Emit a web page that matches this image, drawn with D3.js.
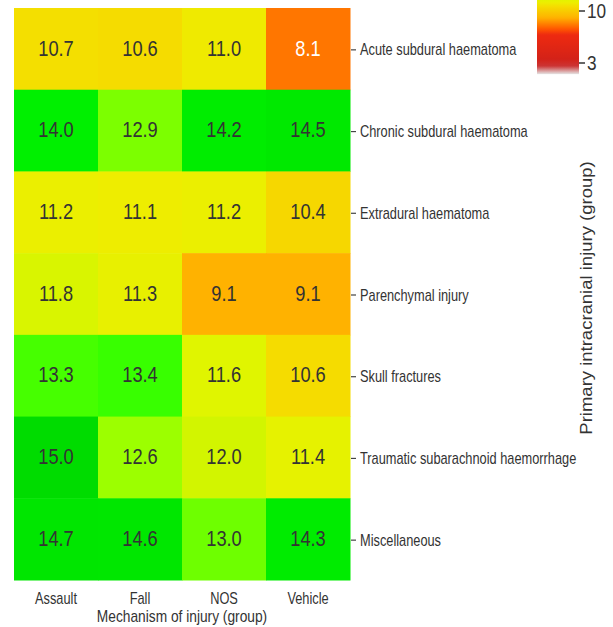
<!DOCTYPE html>
<html>
<head>
<meta charset="utf-8">
<script src="https://cdn.jsdelivr.net/npm/d3@7"></script>
<style>
  html, body { margin: 0; padding: 0; background: #fff; }
  svg { display: block; font-family: "Liberation Sans", Arial, sans-serif; }
</style>
</head>
<body>
<svg id="chart" width="613" height="627"></svg>
<script>
// Mechanism of injury groups (columns)
const mechanisms = ["Assault", "Fall", "NOS", "Vehicle"];
// Primary intracranial injury groups (rows)
const injuries = [
  "Acute subdural haematoma",
  "Chronic subdural haematoma",
  "Extradural haematoma",
  "Parenchymal injury",
  "Skull fractures",
  "Traumatic subarachnoid haemorrhage",
  "Miscellaneous"
];
// Values per injury row, in mechanism order
const assault = [10.7, 14.0, 11.2, 11.8, 13.3, 15.0, 14.7];
const fall    = [10.6, 12.9, 11.1, 11.3, 13.4, 12.6, 14.6];
const nos     = [11.0, 14.2, 11.2, 9.1, 11.6, 12.0, 13.0];
const vehicle = [8.1, 14.5, 10.4, 9.1, 10.6, 11.4, 14.3];
// Colour bar ticks
const legendTicks = [3, 10];

// Colour ramp: grey -> red -> orange -> yellow -> green
const colorStops = [1.5, 2.6, 3.5, 6.8, 7.6, 8.1, 9.1, 10.0, 10.6, 11.1, 11.6, 12.0, 12.3, 12.6, 12.9, 13.4, 14.0, 14.7, 15.0, 16.0];
const colorRange = ["#e4e4e4", "#cc3434", "#d32218", "#ee2a10", "#ff5800", "#ff7600", "#ffb200",
                    "#f8cc00", "#f5dc00", "#eeed00", "#e0f500", "#d2f500", "#bef900", "#9cff00", "#7cff00",
                    "#38ff00", "#00f000", "#00e600", "#00dc00", "#00d000"];

const series = [assault, fall, nos, vehicle];
const cells = [];
mechanisms.forEach((m, i) => {
  injuries.forEach((inj, j) => cells.push({ mech: m, inj: inj, value: series[i][j] }));
});

const svg = d3.select("#chart");
const color = d3.scaleLinear().domain(colorStops).range(colorRange).clamp(true);

const x = d3.scaleBand().domain(mechanisms).range([14, 350]);
const y = d3.scaleBand().domain(injuries).range([8, 580]);

// helper: horizontally narrowed text
function label(g, tx, ty, txt, size, sx, opts = {}) {
  return g.append("text")
    .attr("transform", `translate(${tx},${ty}) scale(${sx},1)`)
    .attr("font-size", size)
    .attr("text-anchor", opts.anchor || "middle")
    .attr("dy", opts.dy || "0.35em")
    .attr("fill", opts.fill || "#333")
    .text(txt);
}

// heat cells
svg.append("g").selectAll("rect").data(cells).join("rect")
  .attr("x", d => x(d.mech))
  .attr("y", d => y(d.inj))
  .attr("width", x.bandwidth() + 0.5)
  .attr("height", y.bandwidth() + 0.5)
  .attr("fill", d => color(d.value));

// cell values
const valG = svg.append("g");
cells.forEach(d => {
  label(valG, x(d.mech) + x.bandwidth() / 2, y(d.inj) + y.bandwidth() / 2 - 1,
        d.value.toFixed(1), 22, 0.83, { fill: d.value < 9 ? "#ffffff" : "#333333" });
});

// right-hand axis with injury labels
const yAxisG = svg.append("g");
injuries.forEach(inj => {
  const cy = y(inj) + y.bandwidth() / 2 + 1;
  yAxisG.append("line").attr("x1", 351).attr("x2", 356).attr("y1", cy).attr("y2", cy)
    .attr("stroke", "#444").attr("stroke-width", 1.2);
  label(yAxisG, 360, cy, inj, 16, 0.8, { anchor: "start" });
});

// bottom axis labels
const xAxisG = svg.append("g");
mechanisms.forEach(m => {
  label(xAxisG, x(m) + x.bandwidth() / 2, 598, m, 16, 0.8);
});

// axis titles
label(svg, 182, 616, "Mechanism of injury (group)", 16, 0.86);
svg.append("text")
  .attr("transform", "translate(592,298) rotate(-90) scale(1,0.85)")
  .attr("font-size", 18.5)
  .attr("text-anchor", "middle")
  .attr("fill", "#333")
  .text("Primary intracranial injury (group)");

// colour bar
const cb = d3.scaleLinear().domain([3, 10]).range([63, 11]);
const cbTop = 16, cbBottom = 1.5;
const defs = svg.append("defs");
const grad = defs.append("linearGradient").attr("id", "cbGrad")
  .attr("x1", 0).attr("x2", 0).attr("y1", 1).attr("y2", 0);
d3.range(0, 101).forEach(k => {
  const v = cbBottom + (cbTop - cbBottom) * k / 100;
  grad.append("stop").attr("offset", `${k}%`).attr("stop-color", color(v));
});
svg.append("rect")
  .attr("x", 537).attr("width", 42)
  .attr("y", cb(cbTop)).attr("height", cb(cbBottom) - cb(cbTop))
  .attr("fill", "url(#cbGrad)");
const cbG = svg.append("g");
legendTicks.forEach(t => {
  cbG.append("line").attr("x1", 579).attr("x2", 585).attr("y1", cb(t)).attr("y2", cb(t))
    .attr("stroke", "#333").attr("stroke-width", 1.5);
  label(cbG, 587, cb(t), String(t), 21, 0.82, { anchor: "start" });
});
</script>
</body>
</html>
